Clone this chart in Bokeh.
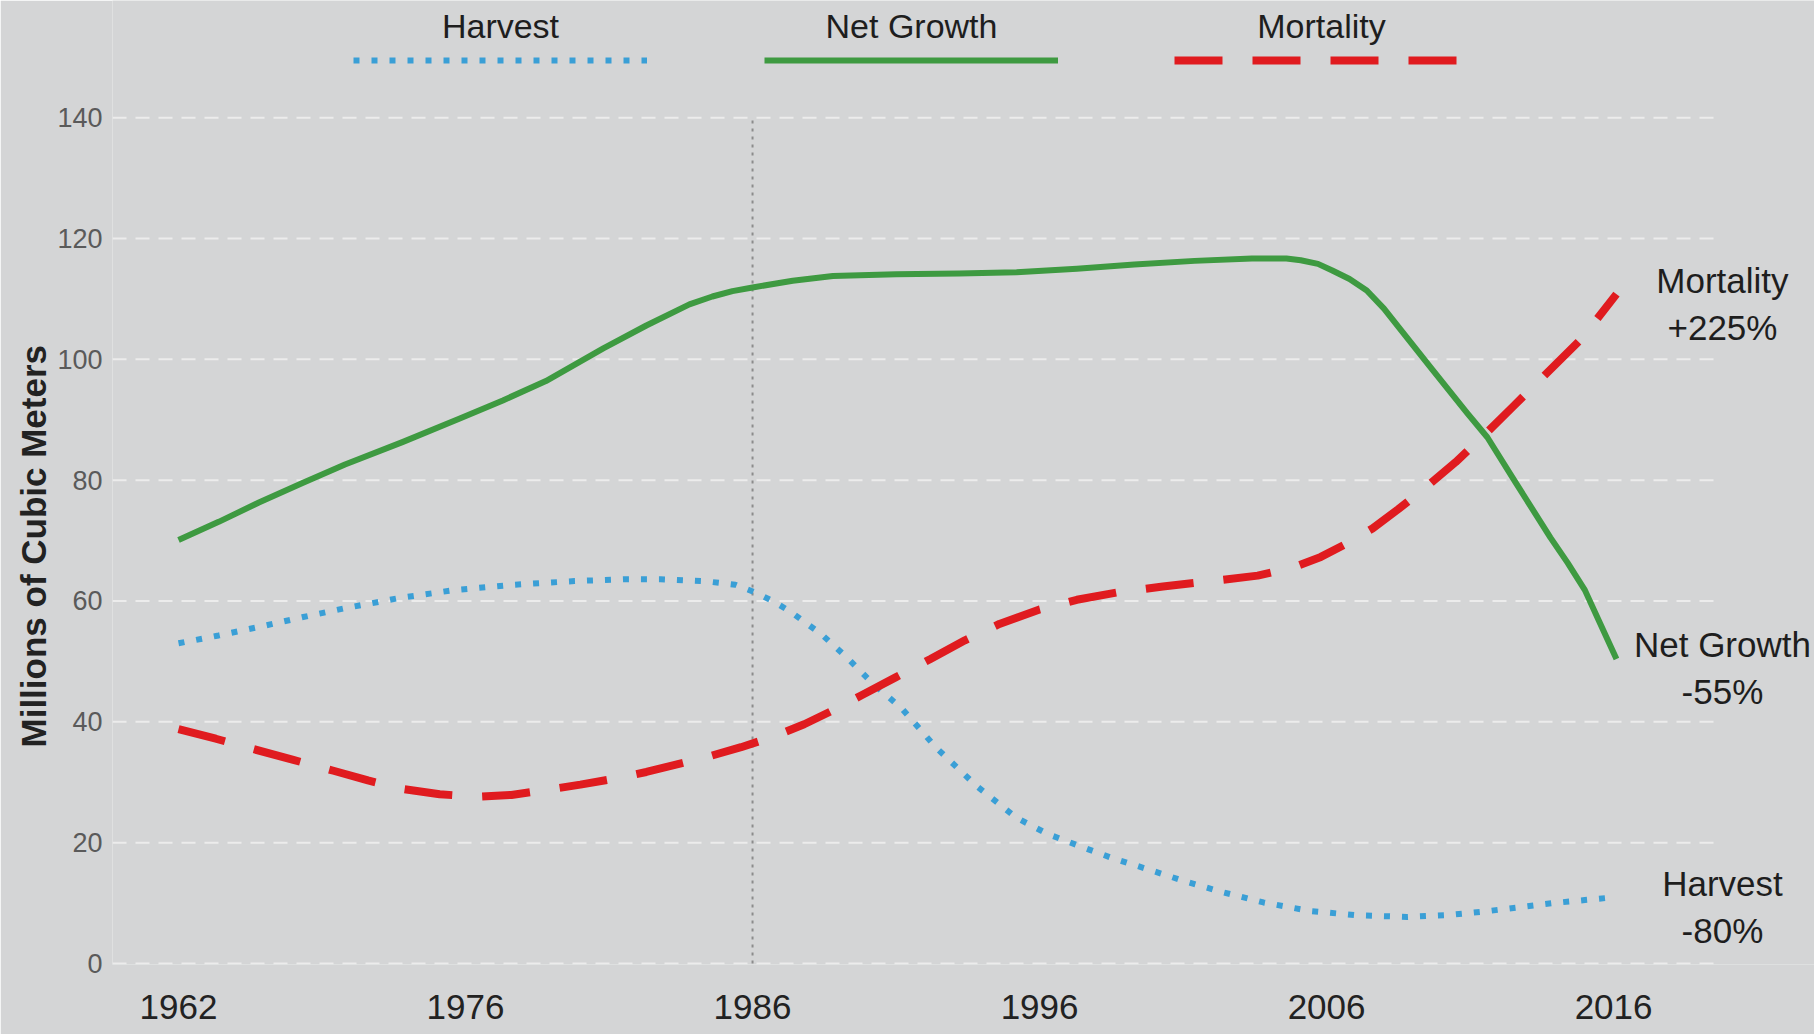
from bokeh.plotting import figure
from bokeh.models import FixedTicker, Label, Legend, LegendItem, Title
from bokeh.embed import file_html
from bokeh.resources import INLINE

# ---------------- data ----------------
year_labels = ["1962", "1976", "1986", "1996", "2006", "2016"]
y_ticks = [0, 20, 40, 60, 80, 100, 120, 140]

# x given in tick-period units (0 = 1962, 1 = 1976, 2 = 1986, ...)
harvest_x = [0.00, 0.14, 0.28, 0.43, 0.58, 0.77, 0.96, 1.17, 1.38, 1.55, 1.68, 1.83,
             1.94, 2.01, 2.07, 2.13, 2.24, 2.33, 2.42, 2.52, 2.64, 2.78, 2.92, 3.03,
             3.13, 3.25, 3.37, 3.50, 3.63, 3.78, 3.94, 4.10, 4.28, 4.42, 4.55, 4.67,
             4.79, 4.90, 5.01]
harvest_y = [53.0, 54.3, 55.7, 57.3, 58.8, 60.5, 61.8, 62.7, 63.3, 63.6, 63.6, 63.3,
             62.7, 61.4, 60.0, 58.3, 54.5, 50.6, 46.3, 42.2, 35.7, 29.4, 24.1, 21.4,
             19.6, 17.5, 15.7, 13.7, 11.9, 10.1, 8.7, 8.0, 7.7, 8.0, 8.6, 9.3,
             10.0, 10.5, 11.0]

growth_x = [0.00, 0.14, 0.28, 0.43, 0.58, 0.78, 0.98, 1.13, 1.28, 1.48, 1.63, 1.78,
            1.86, 1.93, 2.00, 2.14, 2.28, 2.50, 2.72, 2.92, 3.13, 3.33, 3.54, 3.74, 3.86,
            3.91, 3.97, 4.02, 4.08, 4.14, 4.20, 4.26, 4.37, 4.49, 4.56, 4.66, 4.78,
            4.84, 4.90, 4.95, 5.01]
growth_y = [70.1, 73.1, 76.3, 79.5, 82.6, 86.3, 90.2, 93.2, 96.4, 101.8, 105.6, 109.1,
            110.4, 111.3, 111.9, 113.0, 113.8, 114.1, 114.2, 114.4, 115.0, 115.7, 116.3, 116.7, 116.7,
            116.4, 115.8, 114.7, 113.3, 111.4, 108.4, 104.8, 98.2, 91.1, 87.1, 79.5, 70.5,
            66.3, 61.8, 56.6, 50.4]

mortality_x = [0.00, 0.13, 0.26, 0.40, 0.54, 0.66, 0.78, 0.91, 1.04, 1.16, 1.28, 1.40,
               1.52, 1.63, 1.74, 1.85, 1.96, 2.07, 2.18, 2.28, 2.38, 2.50, 2.62, 2.74,
               2.86, 3.00, 3.13, 3.28, 3.43, 3.60, 3.76, 3.88, 3.98, 4.07, 4.16, 4.25,
               4.34, 4.45, 4.55, 4.65, 4.75, 4.89, 5.01]
mortality_y = [38.8, 37.2, 35.5, 33.7, 31.9, 30.3, 28.9, 28.0, 27.6, 27.9, 28.7, 29.6,
               30.6, 31.7, 33.0, 34.3, 35.8, 37.5, 39.6, 41.9, 44.4, 47.4, 50.4, 53.5,
               56.2, 58.6, 60.2, 61.5, 62.4, 63.3, 64.2, 65.5, 67.3, 69.5, 72.0, 75.2,
               78.6, 83.0, 87.5, 92.2, 96.9, 103.5, 110.8]

series_names = ["Harvest", "Net Growth", "Mortality"]
change_labels = ["-80%", "-55%", "+225%"]
marker_year = "1986"
y_title = "Millions of Cubic Meters"

# ---------------- style ----------------
BG = "#d4d5d6"
BLUE = "#3a9fd6"
GREEN = "#3e9a41"
RED = "#e01b1f"
FONT = "Liberation Sans"
X_START, X_END, GRID_END = -0.23, 5.70, 5.359

p = figure(width=1814, height=1034, x_range=(X_START, X_END), y_range=(-0.17, 159.4),
           output_backend="svg", toolbar_location=None,
           min_border_left=112, min_border_right=0, min_border_top=0, min_border_bottom=70)
p.background_fill_color = BG
p.border_fill_color = BG
p.outline_line_color = None

# axes
p.xaxis.ticker = FixedTicker(ticks=list(range(len(year_labels))))
p.xaxis.major_label_overrides = {i: lab for i, lab in enumerate(year_labels)}
p.yaxis.ticker = FixedTicker(ticks=y_ticks)
for ax in (p.xaxis, p.yaxis):
    ax.axis_line_color = None
    ax.major_tick_line_color = None
    ax.minor_tick_line_color = None
    ax.major_tick_out = 0
    ax.major_tick_in = 0
    ax.minor_tick_out = 0
    ax.minor_tick_in = 0
    ax.major_label_text_font = FONT
p.xaxis.major_label_text_font_size = "35px"
p.xaxis.major_label_text_color = "#222222"
p.xaxis.major_label_standoff = 30
p.yaxis.major_label_text_font_size = "27px"
p.yaxis.major_label_text_color = "#5a5a5a"
p.yaxis.major_label_standoff = 10

# horizontal grid lines (stop short of the right-hand annotations)
p.xgrid.visible = False
p.ygrid.visible = False
p.segment(x0=[X_START] * len(y_ticks), y0=y_ticks, x1=[GRID_END] * len(y_ticks), y1=y_ticks,
          line_color="#ececec", line_width=2, line_dash="14 9")

# vertical reference line at 1986
ref_x = year_labels.index(marker_year)
p.segment(x0=[ref_x], y0=[y_ticks[0]], x1=[ref_x], y1=[y_ticks[-1]],
          line_color="#8c8c8c", line_width=2, line_dash="3 5")

r_h = p.line(harvest_x, harvest_y, line_color=BLUE, line_width=6, line_dash="6 12",
             line_cap="butt")
r_g = p.line(growth_x, growth_y, line_color=GREEN, line_width=6, line_join="round")
r_m = p.line(mortality_x, mortality_y, line_color=RED, line_width=8, line_dash="48 30",
             line_cap="butt")

renderers = [r_h, r_g, r_m]
xs_all = [harvest_x, growth_x, mortality_x]
ys_all = [harvest_y, growth_y, mortality_y]

# legend: sample line with its label centred above it
leg_left = [241, 652, 1062]
leg_width = 294
leg_mid_y = 904
for r, name, lx in zip(renderers, series_names, leg_left):
    leg = Legend(items=[LegendItem(label=" ", renderers=[r])], location=(lx, leg_mid_y - 5),
                 orientation="horizontal", glyph_width=leg_width, glyph_height=10,
                 padding=0, margin=0, spacing=0, label_standoff=0, label_width=0,
                 label_height=0, label_text_font_size="1px",
                 background_fill_alpha=0, border_line_alpha=0)
    p.add_layout(leg)
    p.add_layout(Label(x=lx + leg_width / 2, y=leg_mid_y + 35, x_units="screen", y_units="screen",
                       text=name, text_align="center", text_baseline="middle",
                       text_font=FONT, text_font_size="34px", text_color="#1e1e1e"))

# end-of-line annotations
for xs, ys, name, ch in zip(xs_all, ys_all, series_names, change_labels):
    for txt, off in ((name, 14), (ch, -33)):
        p.add_layout(Label(x=xs[-1], y=ys[-1], x_offset=106, y_offset=off, text=txt,
                           text_align="center", text_baseline="middle",
                           text_font=FONT, text_font_size="35px", text_color="#1e1e1e"))

# y-axis title
p.add_layout(Title(text=y_title, align="left", offset=217, text_font=FONT,
                   text_font_style="bold", text_font_size="35px", text_color="#222222",
                   standoff=4), "left")

open("out.html", "w").write(file_html(p, INLINE))
